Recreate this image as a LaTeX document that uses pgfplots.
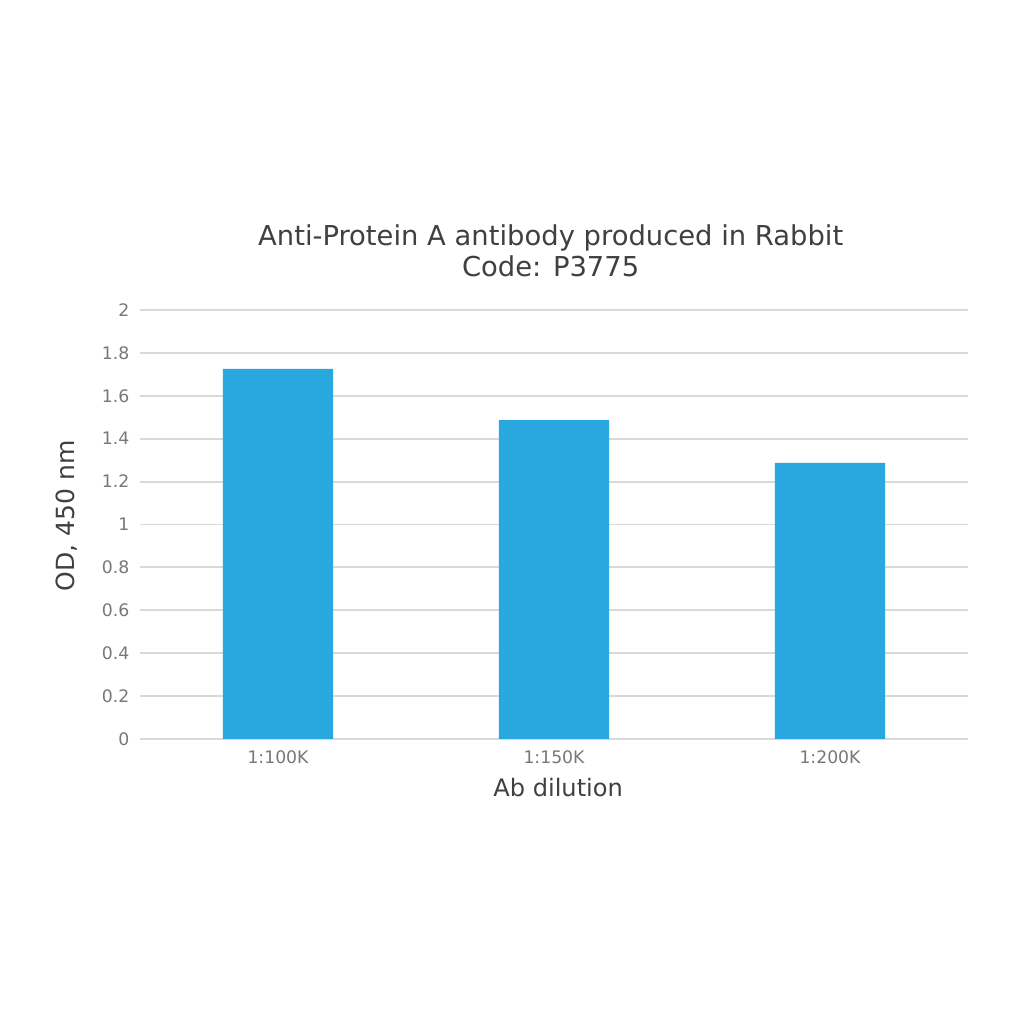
\documentclass[border=0pt]{standalone}
\usepackage{fontspec}
\setmainfont{DejaVu Sans}
\usepackage{pgfplots}
\pgfplotsset{compat=1.18}
\definecolor{barblue}{RGB}{41,168,224}
\definecolor{gridgray}{RGB}{217,217,217}
\definecolor{ticktext}{RGB}{120,120,120}
\definecolor{labeltext}{RGB}{64,64,64}
\newlength\px
\setlength\px{0.42346pt}
\begin{document}
\begin{tikzpicture}
  % page frame, 1024 x 1024 px
  \path[fill=white] (0,0) rectangle (1024\px,1024\px);
  \begin{axis}[
    at={(140\px,285\px)}, anchor=south west,
    scale only axis,
    width=828\px, height=429\px,
    xmin=-0.5, xmax=2.5,
    ymin=0, ymax=2,
    ytick={0,0.2,...,2},
    yticklabel style={/pgf/number format/fixed, /pgf/number format/precision=1},
    xtick={0,1,2},
    xticklabels={1:100K,1:150K,1:200K},
    ymajorgrids,
    grid style={gridgray, line width=0.8pt},
    axis line style={draw=none},
    major tick length=0pt,
    tick label style={font=\fontsize{7.3}{9}\selectfont, color=ticktext},
    /pgf/number format/assume math mode=true,
    xticklabel style={yshift=-1.5pt},
    yticklabel style={xshift=-1pt},
    every axis y label/.style={at={(axis description cs:-0.088,0.52)}, rotate=90, anchor=center},
    every axis x label/.style={at={(axis description cs:0.505,-0.112)}, anchor=center},
    label style={color=labeltext},
    xlabel style={font=\fontsize{10.2}{12}\selectfont},
    ylabel style={font=\fontsize{10.6}{12}\selectfont},
    xlabel={Ab dilution},
    ylabel={OD, 450 nm},
    title={Anti-Protein A antibody produced in Rabbit\\Code: P3775},
    title style={at={(axis description cs:0.496,1.105)}, anchor=center, align=center,
      font=\fontsize{11.6}{13.1}\selectfont, color=labeltext},
    ybar, bar width=0.4, bar shift=0pt,
  ]
    \addplot[fill=barblue, draw=none] coordinates {
      (0, 1.725)
      (1, 1.487)
      (2, 1.287)
    };
  \end{axis}
\end{tikzpicture}
\end{document}
